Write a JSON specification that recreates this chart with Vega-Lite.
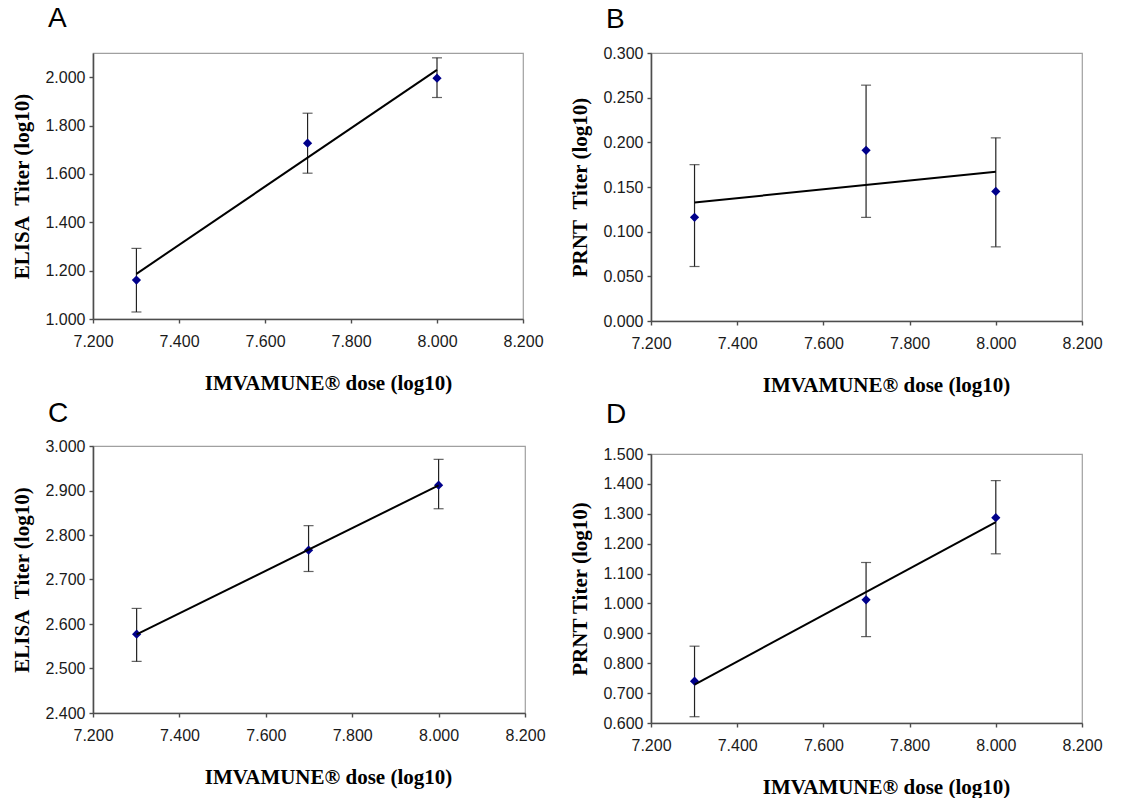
{
  "$schema": "https://vega.github.io/schema/vega-lite/v6.json",
  "background": "white",
  "padding": {"left": 11, "top": 4, "right": 0, "bottom": 0},
  "datasets": {
    "A": [
      {"dose": 7.301, "titer": 1.161, "lo": 1.029, "hi": 1.292},
      {"dose": 7.699, "titer": 1.727, "lo": 1.603, "hi": 1.851},
      {"dose": 8.0, "titer": 1.996, "lo": 1.916, "hi": 2.080}
    ],
    "B": [
      {"dose": 7.301, "titer": 0.116, "lo": 0.061, "hi": 0.175},
      {"dose": 7.699, "titer": 0.191, "lo": 0.116, "hi": 0.264},
      {"dose": 8.0, "titer": 0.145, "lo": 0.083, "hi": 0.205}
    ],
    "C": [
      {"dose": 7.301, "titer": 2.577, "lo": 2.516, "hi": 2.635},
      {"dose": 7.699, "titer": 2.766, "lo": 2.718, "hi": 2.821},
      {"dose": 8.0, "titer": 2.912, "lo": 2.859, "hi": 2.970}
    ],
    "D": [
      {"dose": 7.301, "titer": 0.740, "lo": 0.621, "hi": 0.857},
      {"dose": 7.699, "titer": 1.012, "lo": 0.889, "hi": 1.137},
      {"dose": 8.0, "titer": 1.287, "lo": 1.166, "hi": 1.411}
    ]
  },
  "spacing": 23,
  "hconcat": [
    {
      "spacing": 5,
      "vconcat": [
        {
          "width": 430, "height": 266,
          "title": {"text": "A", "offset": 20},
          "data": {"name": "A"},
          "encoding": {"x": {"field": "dose", "type": "quantitative", "scale": {"domain": [7.2, 8.2], "nice": false, "zero": false}, "axis": {"values": [7.2, 7.4, 7.6, 7.8, 8.0, 8.2], "format": ".3f", "title": "IMVAMUNE® dose (log10)"}}},
          "layer": [
            {"mark": {"type": "errorbar", "ticks": true, "size": 10, "thickness": 1.2, "color": "#222222"},
             "encoding": {"y": {"field": "lo", "type": "quantitative", "scale": {"domain": [1.0, 2.1], "nice": false, "zero": false}, "axis": {"values": [1.0, 1.2, 1.4, 1.6, 1.8, 2.0], "format": ".3f", "title": "ELISA\u2002Titer (log10)"}}, "y2": {"field": "hi"}}},
            {"mark": {"type": "point", "shape": "diamond", "filled": true, "size": 85, "color": "#00008b", "opacity": 1},
             "encoding": {"y": {"field": "titer", "type": "quantitative", "scale": {"domain": [1.0, 2.1], "nice": false, "zero": false}, "axis": {"values": [1.0, 1.2, 1.4, 1.6, 1.8, 2.0], "format": ".3f", "title": "ELISA\u2002Titer (log10)"}}}},
            {"transform": [{"regression": "titer", "on": "dose"}],
             "mark": {"type": "line", "color": "#000000", "strokeWidth": 2},
             "encoding": {"y": {"field": "titer", "type": "quantitative", "scale": {"domain": [1.0, 2.1], "nice": false, "zero": false}, "axis": {"values": [1.0, 1.2, 1.4, 1.6, 1.8, 2.0], "format": ".3f", "title": "ELISA\u2002Titer (log10)"}}}}
          ]
        },
        {
          "width": 432, "height": 267,
          "title": {"text": "C", "offset": 10},
          "data": {"name": "C"},
          "encoding": {"x": {"field": "dose", "type": "quantitative", "scale": {"domain": [7.2, 8.2], "nice": false, "zero": false}, "axis": {"values": [7.2, 7.4, 7.6, 7.8, 8.0, 8.2], "format": ".3f", "title": "IMVAMUNE® dose (log10)"}}},
          "layer": [
            {"mark": {"type": "errorbar", "ticks": true, "size": 10, "thickness": 1.2, "color": "#222222"},
             "encoding": {"y": {"field": "lo", "type": "quantitative", "scale": {"domain": [2.4, 3.0], "nice": false, "zero": false}, "axis": {"values": [2.4, 2.5, 2.6, 2.7, 2.8, 2.9, 3.0], "format": ".3f", "title": "ELISA\u2002Titer (log10)"}}, "y2": {"field": "hi"}}},
            {"mark": {"type": "point", "shape": "diamond", "filled": true, "size": 85, "color": "#00008b", "opacity": 1},
             "encoding": {"y": {"field": "titer", "type": "quantitative", "scale": {"domain": [2.4, 3.0], "nice": false, "zero": false}, "axis": {"values": [2.4, 2.5, 2.6, 2.7, 2.8, 2.9, 3.0], "format": ".3f", "title": "ELISA\u2002Titer (log10)"}}}},
            {"transform": [{"regression": "titer", "on": "dose"}],
             "mark": {"type": "line", "color": "#000000", "strokeWidth": 2},
             "encoding": {"y": {"field": "titer", "type": "quantitative", "scale": {"domain": [2.4, 3.0], "nice": false, "zero": false}, "axis": {"values": [2.4, 2.5, 2.6, 2.7, 2.8, 2.9, 3.0], "format": ".3f", "title": "ELISA\u2002Titer (log10)"}}}}
          ]
        }
      ]
    },
    {
      "spacing": 4,
      "vconcat": [
        {
          "width": 431, "height": 268,
          "title": {"text": "B", "offset": 11},
          "data": {"name": "B"},
          "encoding": {"x": {"field": "dose", "type": "quantitative", "scale": {"domain": [7.2, 8.2], "nice": false, "zero": false}, "axis": {"values": [7.2, 7.4, 7.6, 7.8, 8.0, 8.2], "format": ".3f", "title": "IMVAMUNE® dose (log10)"}}},
          "layer": [
            {"mark": {"type": "errorbar", "ticks": true, "size": 10, "thickness": 1.2, "color": "#222222"},
             "encoding": {"y": {"field": "lo", "type": "quantitative", "scale": {"domain": [0.0, 0.3], "nice": false}, "axis": {"values": [0.0, 0.05, 0.1, 0.15, 0.2, 0.25, 0.3], "format": ".3f", "title": "PRNT\u2002Titer (log10)"}}, "y2": {"field": "hi"}}},
            {"mark": {"type": "point", "shape": "diamond", "filled": true, "size": 85, "color": "#00008b", "opacity": 1},
             "encoding": {"y": {"field": "titer", "type": "quantitative", "scale": {"domain": [0.0, 0.3], "nice": false}, "axis": {"values": [0.0, 0.05, 0.1, 0.15, 0.2, 0.25, 0.3], "format": ".3f", "title": "PRNT\u2002Titer (log10)"}}}},
            {"transform": [{"regression": "titer", "on": "dose"}],
             "mark": {"type": "line", "color": "#000000", "strokeWidth": 2},
             "encoding": {"y": {"field": "titer", "type": "quantitative", "scale": {"domain": [0.0, 0.3], "nice": false}, "axis": {"values": [0.0, 0.05, 0.1, 0.15, 0.2, 0.25, 0.3], "format": ".3f", "title": "PRNT\u2002Titer (log10)"}}}}
          ]
        },
        {
          "width": 431, "height": 269,
          "title": {"text": "D", "offset": 17},
          "data": {"name": "D"},
          "encoding": {"x": {"field": "dose", "type": "quantitative", "scale": {"domain": [7.2, 8.2], "nice": false, "zero": false}, "axis": {"values": [7.2, 7.4, 7.6, 7.8, 8.0, 8.2], "format": ".3f", "title": "IMVAMUNE® dose (log10)"}}},
          "layer": [
            {"mark": {"type": "errorbar", "ticks": true, "size": 10, "thickness": 1.2, "color": "#222222"},
             "encoding": {"y": {"field": "lo", "type": "quantitative", "scale": {"domain": [0.6, 1.5], "nice": false, "zero": false}, "axis": {"values": [0.6, 0.7, 0.8, 0.9, 1.0, 1.1, 1.2, 1.3, 1.4, 1.5], "format": ".3f", "title": "PRNT Titer (log10)"}}, "y2": {"field": "hi"}}},
            {"mark": {"type": "point", "shape": "diamond", "filled": true, "size": 85, "color": "#00008b", "opacity": 1},
             "encoding": {"y": {"field": "titer", "type": "quantitative", "scale": {"domain": [0.6, 1.5], "nice": false, "zero": false}, "axis": {"values": [0.6, 0.7, 0.8, 0.9, 1.0, 1.1, 1.2, 1.3, 1.4, 1.5], "format": ".3f", "title": "PRNT Titer (log10)"}}}},
            {"transform": [{"regression": "titer", "on": "dose"}],
             "mark": {"type": "line", "color": "#000000", "strokeWidth": 2},
             "encoding": {"y": {"field": "titer", "type": "quantitative", "scale": {"domain": [0.6, 1.5], "nice": false, "zero": false}, "axis": {"values": [0.6, 0.7, 0.8, 0.9, 1.0, 1.1, 1.2, 1.3, 1.4, 1.5], "format": ".3f", "title": "PRNT Titer (log10)"}}}}
          ]
        }
      ]
    }
  ],
  "config": {
    "view": {"stroke": "#a0a0a0", "strokeWidth": 1.2},
    "axis": {
      "labelFont": "Liberation Sans", "labelFontSize": 16, "labelColor": "#1a1a1a", "labelFlush": false, "labelOverlap": false,
      "titleFont": "Liberation Serif", "titleFontSize": 21, "titleFontWeight": "bold", "titleColor": "#000000",
      "domainColor": "#4d4d4d", "domainWidth": 1.6, "tickColor": "#4d4d4d", "tickWidth": 1.4, "tickSize": 4,
      "grid": false
    },
    "axisX": {"labelPadding": 10, "titlePadding": 23, "titleX": 235, "titleAlign": "center"},
    "axisY": {"labelPadding": 4, "titlePadding": 12},
    "title": {"font": "Liberation Sans", "fontSize": 28, "fontWeight": "normal", "anchor": "start", "frame": "group", "dx": -45, "color": "#000000"}
  }
}
